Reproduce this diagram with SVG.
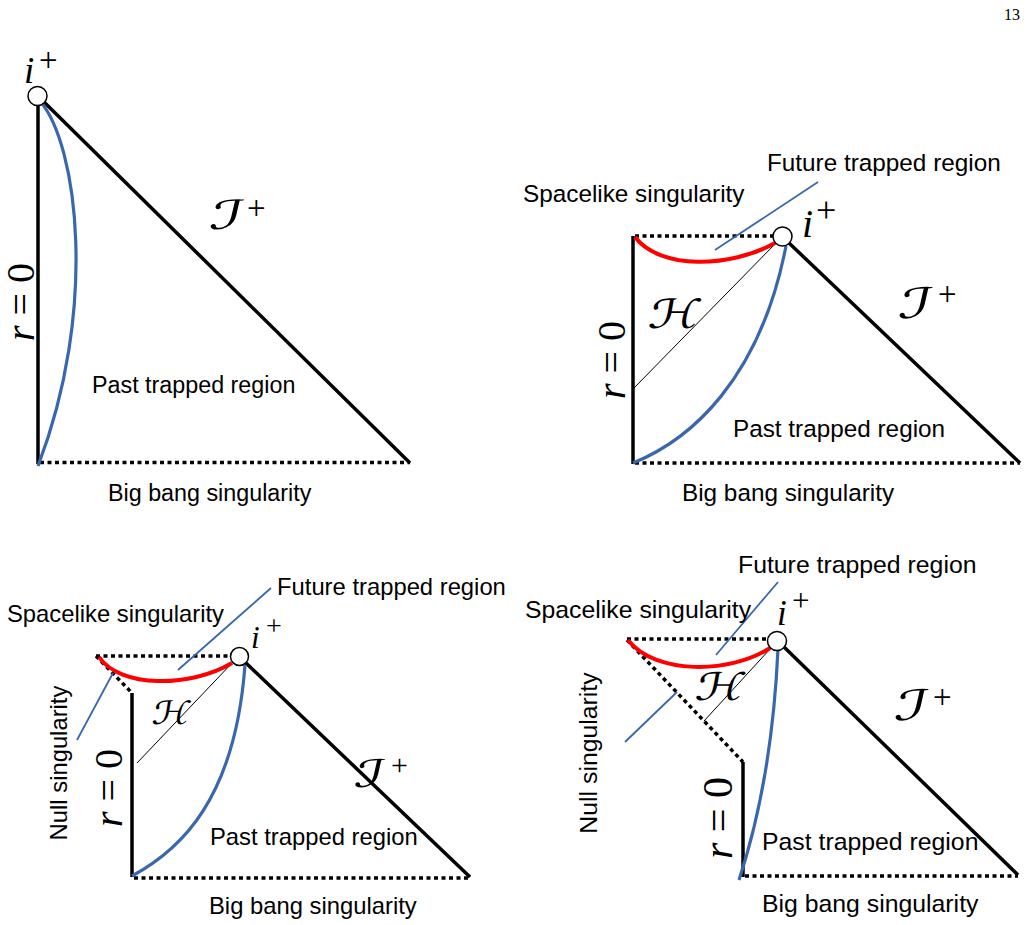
<svg xmlns="http://www.w3.org/2000/svg" width="1028" height="925" viewBox="0 0 1028 925">
<style>
.thick{stroke:#000;stroke-width:3.5;fill:none;stroke-linecap:butt}
.dot{stroke:#000;stroke-width:3.5;fill:none;stroke-dasharray:4 3.5}
.thin{stroke:#000;stroke-width:1;fill:none}
.blue{stroke:#3a67ac;stroke-width:3.2;fill:none}
.red{stroke:#ff0000;stroke-width:4;fill:none}
.ann{stroke:#3a67ac;stroke-width:1.8;fill:none}
.pt{fill:#fff;stroke:#000;stroke-width:1.5}
.lbl{font-family:"Liberation Sans",Arial,sans-serif;fill:#000}
.s1{font-size:23.3px}
.s2{font-size:24.3px}
.s3{font-size:23.8px}
.s4{font-size:24.8px}
.math{font-family:"Liberation Serif","Times New Roman",serif;fill:#000}
.scr{font-family:"DejaVu Sans","DejaVu Serif",serif;fill:#000}
</style>
<rect width="1028" height="925" fill="#fff"/>
<text class="math" x="1020" y="20" font-size="16" text-anchor="end">13</text>

<g id="panel1">
  <g id="p1-lines">
    <path class="thick" d="M38,100 V464"/>
    <path class="thick" d="M44,102 L410,463"/>
    <path class="dot" d="M40,462.5 H410"/>
    <path class="blue" d="M40,101 C78,145 98,310 38,466"/>
  </g>
  <circle id="p1-iplus" class="pt" cx="37.5" cy="96" r="9.5"/>
  <text class="math" x="24" y="83" font-size="37" font-style="italic">i</text>
  <text class="math" x="39" y="71" font-size="33">+</text>
  <text class="scr" font-size="40" transform="translate(208,229) scale(1.7,1) skewX(-8)">ℐ</text>
  <text class="math" x="247" y="219" font-size="33">+</text>
  <text class="math" font-size="40" text-anchor="middle" transform="translate(34,302) rotate(-90)"><tspan font-style="italic">r</tspan> = 0</text>
  <text class="lbl s1" x="92" y="393">Past trapped region</text>
  <text class="lbl s1" x="108" y="501">Big bang singularity</text>
</g>

<g id="panel2">
  <g id="p2-lines">
    <path class="thick" d="M633,236 V464"/>
    <path class="thick" d="M789,243 L1020,463"/>
    <path class="dot" d="M635,236 H773"/>
    <path class="dot" d="M635,463 H1020"/>
    <path class="thin" d="M634,388 L776,243"/>
    <path class="red" d="M635,237 C660,270 730,268 775,243"/>
    <path class="blue" d="M633,463 C690,440 760,380 786,246"/>
    <path class="ann" d="M715,250 L818,182"/>
  </g>
  <circle class="pt" cx="782.5" cy="236.5" r="9.5"/>
  <text class="math" x="802" y="237" font-size="40" font-style="italic">i</text>
  <text class="math" x="816" y="222" font-size="36">+</text>
  <text class="scr" font-size="42" transform="translate(897,318) scale(1.6,1) skewX(-8)">ℐ</text>
  <text class="math" x="938" y="305" font-size="33">+</text>
  <text class="scr" font-size="40" transform="translate(647,328) scale(1.3,1) skewX(-8)">ℋ</text>
  <text class="math" font-size="40" text-anchor="middle" transform="translate(625,360) rotate(-90)"><tspan font-style="italic">r</tspan> = 0</text>
  <text class="lbl s2" x="767" y="171">Future trapped region</text>
  <text class="lbl s2" x="523" y="202">Spacelike singularity</text>
  <text class="lbl s2" x="733" y="437">Past trapped region</text>
  <text class="lbl s2" x="682" y="501">Big bang singularity</text>
</g>

<g id="panel3">
  <g id="p3-lines">
    <path class="thick" d="M132,693 V877"/>
    <path class="thick" d="M246,663 L470,877"/>
    <path class="dot" d="M96,656 H231"/>
    <path class="dot" d="M96,656 L132,693"/>
    <path class="dot" d="M134,878 H470"/>
    <path class="thin" d="M137,763 L233,662"/>
    <path class="red" d="M99,657 C120,688 190,688 232,663"/>
    <path class="blue" d="M132,876 C180,850 235,800 245,665"/>
    <path class="ann" d="M178,670 L271,588"/>
    <path class="ann" d="M77,740 L113,673"/>
  </g>
  <circle class="pt" cx="239.5" cy="656.5" r="9"/>
  <text class="math" x="251" y="648" font-size="31" font-style="italic">i</text>
  <text class="math" x="266" y="635" font-size="28">+</text>
  <text class="scr" font-size="38" transform="translate(353,787) scale(1.6,1) skewX(-8)">ℐ</text>
  <text class="math" x="391" y="775" font-size="30">+</text>
  <text class="scr" font-size="32" transform="translate(151,724) scale(1.2,1) skewX(-8)">ℋ</text>
  <text class="math" font-size="40" text-anchor="middle" transform="translate(122,788) rotate(-90)"><tspan font-style="italic">r</tspan> = 0</text>
  <text class="lbl s3" text-anchor="middle" transform="translate(67,763) rotate(-90)">Null singularity</text>
  <text class="lbl s3" x="277" y="595">Future trapped region</text>
  <text class="lbl s3" x="7" y="622">Spacelike singularity</text>
  <text class="lbl s3" x="210" y="845">Past trapped region</text>
  <text class="lbl s3" x="209" y="914">Big bang singularity</text>
</g>

<g id="panel4">
  <g id="p4-lines">
    <path class="thick" d="M743,762 V877"/>
    <path class="thick" d="M784,647 L1018,875"/>
    <path class="dot" d="M627,639 H768"/>
    <path class="dot" d="M627,640 L743,762"/>
    <path class="dot" d="M745,876 H1018"/>
    <path class="thin" d="M704,721 L771,648"/>
    <path class="red" d="M628,640 C655,675 730,674 770,648"/>
    <path class="blue" d="M739,880 Q772,780 778,649"/>
    <path class="ann" d="M716,655 L778,582"/>
    <path class="ann" d="M625,742 L677,692"/>
  </g>
  <circle class="pt" cx="777" cy="641" r="9.5"/>
  <text class="math" x="777" y="625" font-size="35" font-style="italic">i</text>
  <text class="math" x="792" y="611" font-size="31">+</text>
  <text class="scr" font-size="42" transform="translate(893,720) scale(1.6,1) skewX(-8)">ℐ</text>
  <text class="math" x="933" y="708" font-size="33">+</text>
  <text class="scr" font-size="38" transform="translate(694,700) scale(1.3,1) skewX(-8)">ℋ</text>
  <text class="math" font-size="42" text-anchor="middle" transform="translate(732,818) rotate(-90)"><tspan font-style="italic">r</tspan> = 0</text>
  <text class="lbl s4" text-anchor="middle" transform="translate(597,753) rotate(-90)">Null singularity</text>
  <text class="lbl s4" x="738" y="573">Future trapped region</text>
  <text class="lbl s4" x="525" y="618">Spacelike singularity</text>
  <text class="lbl s4" x="762" y="850">Past trapped region</text>
  <text class="lbl s4" x="762" y="912">Big bang singularity</text>
</g>
</svg>
